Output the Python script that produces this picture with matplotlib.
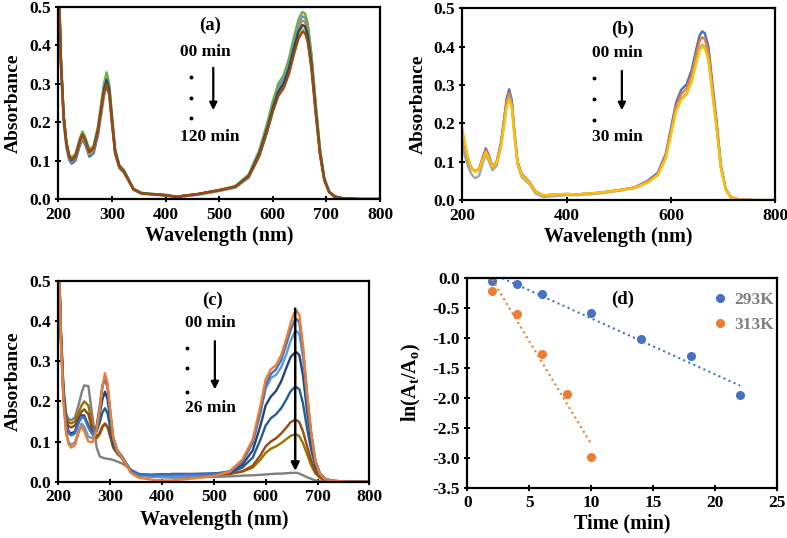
import numpy as np
import matplotlib
matplotlib.use("Agg")
import matplotlib.pyplot as plt

plt.rcParams['font.family'] = ['Liberation Serif', 'DejaVu Serif']
plt.rcParams['font.weight'] = 'bold'
plt.rcParams['axes.unicode_minus'] = False
plt.rcParams['mathtext.fontset'] = 'custom'
plt.rcParams['mathtext.rm'] = 'Liberation Serif:bold'
plt.rcParams['mathtext.it'] = 'Liberation Serif:bold'
plt.rcParams['mathtext.bf'] = 'Liberation Serif:bold'

# Data
wl = [200, 205, 210, 215, 220, 225, 232, 240, 245, 250, 258, 266, 274, 280, 285,
      290, 295, 300, 306, 314, 322, 330, 340, 355, 380, 400, 420, 460, 500, 530,
      555, 575, 590, 600, 610, 620, 630, 640, 648, 655, 660, 665, 672, 680, 688,
      696, 705, 715, 730, 760, 800]

# panel (a): 00 -> 120 min
a_blue = [0.58, 0.34, 0.2, 0.135, 0.102, 0.092, 0.1, 0.138, 0.155, 0.142, 0.11, 0.12, 0.166, 0.22, 0.268,
          0.295, 0.27, 0.196, 0.117, 0.08, 0.069, 0.05, 0.024, 0.014, 0.011, 0.009, 0.005, 0.011, 0.021, 0.03,
          0.056, 0.112, 0.178, 0.228, 0.27, 0.29, 0.328, 0.383, 0.422, 0.44, 0.437, 0.416, 0.344, 0.226, 0.118,
          0.05, 0.018, 0.006, 0.002, 0.0, 0.0]
a_orange = [0.60, 0.355, 0.216, 0.148, 0.115, 0.105, 0.114, 0.15, 0.167, 0.153, 0.122, 0.133, 0.178, 0.233, 0.28,
            0.305, 0.28, 0.205, 0.123, 0.084, 0.073, 0.053, 0.026, 0.015, 0.012, 0.01, 0.006, 0.013, 0.023, 0.032,
            0.061, 0.122, 0.191, 0.243, 0.286, 0.307, 0.348, 0.406, 0.447, 0.465, 0.461, 0.44, 0.364, 0.24, 0.125,
            0.053, 0.019, 0.007, 0.002, 0.0, 0.0]
a_yellow = [0.62, 0.35, 0.21, 0.142, 0.108, 0.098, 0.108, 0.146, 0.163, 0.15, 0.118, 0.13, 0.175, 0.228, 0.275,
            0.30, 0.275, 0.2, 0.12, 0.082, 0.071, 0.051, 0.025, 0.015, 0.012, 0.01, 0.006, 0.012, 0.022, 0.031,
            0.059, 0.117, 0.183, 0.233, 0.275, 0.295, 0.334, 0.389, 0.428, 0.445, 0.442, 0.421, 0.348, 0.229, 0.12,
            0.05, 0.018, 0.006, 0.002, 0.0, 0.0]
a_lightblue = [0.60, 0.355, 0.215, 0.147, 0.114, 0.104, 0.114, 0.153, 0.171, 0.157, 0.124, 0.136, 0.185, 0.243, 0.292,
               0.32, 0.292, 0.214, 0.127, 0.086, 0.075, 0.054, 0.027, 0.016, 0.013, 0.011, 0.006, 0.013, 0.023, 0.033,
               0.062, 0.124, 0.195, 0.249, 0.293, 0.314, 0.356, 0.415, 0.457, 0.476, 0.472, 0.45, 0.372, 0.245, 0.128,
               0.054, 0.02, 0.007, 0.002, 0.0, 0.0]
a_green = [0.60, 0.36, 0.22, 0.15, 0.117, 0.108, 0.118, 0.158, 0.176, 0.162, 0.128, 0.14, 0.19, 0.25, 0.30,
           0.33, 0.30, 0.22, 0.13, 0.088, 0.077, 0.055, 0.027, 0.016, 0.013, 0.011, 0.006, 0.013, 0.024, 0.034,
           0.064, 0.128, 0.2, 0.255, 0.30, 0.322, 0.365, 0.425, 0.468, 0.487, 0.483, 0.46, 0.38, 0.25, 0.13,
           0.055, 0.02, 0.007, 0.002, 0.0, 0.0]
a_darkblue = [0.60, 0.355, 0.212, 0.145, 0.11, 0.1, 0.11, 0.15, 0.168, 0.155, 0.122, 0.133, 0.18, 0.236, 0.284,
              0.31, 0.284, 0.208, 0.124, 0.084, 0.073, 0.052, 0.026, 0.015, 0.012, 0.01, 0.006, 0.013, 0.023, 0.032,
              0.06, 0.119, 0.186, 0.237, 0.279, 0.3, 0.34, 0.396, 0.436, 0.453, 0.45, 0.428, 0.354, 0.233, 0.121,
              0.051, 0.019, 0.007, 0.002, 0.0, 0.0]
a_brown = [0.62, 0.36, 0.215, 0.147, 0.113, 0.103, 0.112, 0.15, 0.166, 0.153, 0.121, 0.132, 0.177, 0.231, 0.277,
           0.298, 0.274, 0.2, 0.12, 0.083, 0.072, 0.052, 0.026, 0.015, 0.012, 0.01, 0.006, 0.013, 0.023, 0.032,
           0.058, 0.114, 0.179, 0.228, 0.268, 0.288, 0.326, 0.38, 0.418, 0.435, 0.432, 0.411, 0.34, 0.223, 0.116,
           0.049, 0.018, 0.006, 0.002, 0.0, 0.0]

# panel (b): 00 -> 30 min
b_blue = [0.17, 0.14, 0.11, 0.09, 0.079, 0.075, 0.08, 0.115, 0.135, 0.12, 0.088, 0.1, 0.15, 0.21, 0.265,
          0.289, 0.26, 0.18, 0.1, 0.068, 0.057, 0.045, 0.024, 0.012, 0.015, 0.016, 0.015, 0.019, 0.026, 0.033,
          0.05, 0.072, 0.12, 0.187, 0.255, 0.288, 0.302, 0.34, 0.39, 0.43, 0.44, 0.435, 0.40, 0.30, 0.2,
          0.09, 0.03, 0.008, 0.002, 0.0, 0.0]
b_orange = [0.175, 0.145, 0.113, 0.092, 0.08, 0.076, 0.081, 0.113, 0.131, 0.117, 0.087, 0.098, 0.146, 0.204, 0.257,
            0.28, 0.252, 0.175, 0.098, 0.067, 0.056, 0.044, 0.023, 0.012, 0.015, 0.016, 0.015, 0.019, 0.026, 0.033,
            0.048, 0.069, 0.116, 0.18, 0.246, 0.277, 0.291, 0.328, 0.376, 0.415, 0.425, 0.42, 0.386, 0.29, 0.193,
            0.087, 0.029, 0.008, 0.002, 0.0, 0.0]
b_gray = [0.143, 0.115, 0.092, 0.075, 0.063, 0.057, 0.063, 0.1, 0.12, 0.105, 0.078, 0.09, 0.138, 0.195, 0.248,
          0.27, 0.243, 0.168, 0.092, 0.06, 0.05, 0.04, 0.018, 0.008, 0.011, 0.013, 0.013, 0.017, 0.024, 0.031,
          0.046, 0.066, 0.11, 0.172, 0.235, 0.265, 0.278, 0.313, 0.359, 0.396, 0.405, 0.4, 0.368, 0.276, 0.184,
          0.083, 0.028, 0.007, 0.002, 0.0, 0.0]
b_yellow = [0.187, 0.15, 0.115, 0.093, 0.079, 0.074, 0.079, 0.108, 0.126, 0.112, 0.087, 0.097, 0.14, 0.195, 0.243,
            0.263, 0.24, 0.168, 0.095, 0.065, 0.054, 0.043, 0.023, 0.012, 0.015, 0.016, 0.015, 0.019, 0.026, 0.032,
            0.045, 0.065, 0.109, 0.17, 0.232, 0.262, 0.275, 0.309, 0.355, 0.391, 0.40, 0.396, 0.364, 0.273, 0.182,
            0.082, 0.027, 0.007, 0.002, 0.0, 0.0]

# panel (c): 00 -> 26 min
c_gray = [0.6, 0.38, 0.235, 0.17, 0.156, 0.153, 0.16, 0.195, 0.222, 0.24, 0.238, 0.16, 0.085, 0.063, 0.06,
          0.058, 0.057, 0.056, 0.054, 0.05, 0.046, 0.04, 0.03, 0.02, 0.013, 0.011, 0.01, 0.011, 0.012, 0.013,
          0.015, 0.016, 0.017, 0.018, 0.019, 0.02, 0.02, 0.021, 0.022, 0.022, 0.022, 0.02, 0.016, 0.011, 0.007,
          0.003, 0.001, 0.0, 0.0, 0.0, 0.0]
c_darkyellow = [0.6, 0.37, 0.225, 0.16, 0.148, 0.145, 0.15, 0.175, 0.19, 0.2, 0.19, 0.135, 0.108, 0.118, 0.135,
                0.143, 0.135, 0.112, 0.085, 0.07, 0.06, 0.045, 0.026, 0.017, 0.016, 0.016, 0.016, 0.017, 0.018, 0.02,
                0.025, 0.035, 0.055, 0.072, 0.082, 0.088, 0.096, 0.106, 0.114, 0.117, 0.117, 0.113, 0.096, 0.068, 0.04,
                0.02, 0.009, 0.003, 0.001, 0.0, 0.0]
c_brown = [0.6, 0.37, 0.22, 0.155, 0.138, 0.135, 0.14, 0.162, 0.175, 0.18, 0.168, 0.125, 0.112, 0.122, 0.138,
           0.145, 0.138, 0.115, 0.085, 0.07, 0.06, 0.045, 0.025, 0.015, 0.013, 0.014, 0.015, 0.016, 0.017, 0.019,
           0.026, 0.04, 0.066, 0.088, 0.1, 0.108, 0.12, 0.135, 0.148, 0.153, 0.153, 0.148, 0.125, 0.088, 0.052,
           0.026, 0.011, 0.004, 0.001, 0.0, 0.0]
c_midblue = [0.6, 0.36, 0.215, 0.145, 0.123, 0.118, 0.122, 0.15, 0.16, 0.16, 0.138, 0.118, 0.125, 0.148, 0.172,
             0.183, 0.17, 0.135, 0.092, 0.072, 0.062, 0.046, 0.026, 0.017, 0.017, 0.018, 0.019, 0.019, 0.02, 0.022,
             0.035, 0.06, 0.105, 0.14, 0.158, 0.168, 0.183, 0.205, 0.225, 0.234, 0.235, 0.23, 0.195, 0.132, 0.078,
             0.038, 0.015, 0.006, 0.002, 0.0, 0.0]
c_darkblue = [0.6, 0.36, 0.215, 0.145, 0.125, 0.12, 0.125, 0.155, 0.165, 0.165, 0.14, 0.118, 0.133, 0.17, 0.205,
              0.224, 0.205, 0.155, 0.1, 0.075, 0.063, 0.047, 0.027, 0.018, 0.017, 0.018, 0.019, 0.019, 0.02, 0.024,
              0.042, 0.078, 0.14, 0.19, 0.212, 0.226, 0.25, 0.284, 0.31, 0.32, 0.322, 0.315, 0.265, 0.175, 0.1,
              0.045, 0.018, 0.006, 0.002, 0.0, 0.0]
c_lightblue = [0.6, 0.35, 0.2, 0.125, 0.098, 0.092, 0.098, 0.13, 0.145, 0.137, 0.112, 0.108, 0.135, 0.185, 0.235,
               0.258, 0.235, 0.172, 0.108, 0.076, 0.064, 0.047, 0.025, 0.015, 0.012, 0.012, 0.013, 0.015, 0.017, 0.024,
               0.05, 0.098, 0.172, 0.232, 0.258, 0.266, 0.285, 0.318, 0.35, 0.37, 0.375, 0.367, 0.31, 0.205, 0.115,
               0.05, 0.019, 0.007, 0.002, 0.0, 0.0]
c_blue = [0.6, 0.36, 0.21, 0.14, 0.12, 0.115, 0.12, 0.15, 0.162, 0.16, 0.135, 0.118, 0.14, 0.19, 0.24,
          0.258, 0.235, 0.175, 0.11, 0.078, 0.065, 0.048, 0.028, 0.018, 0.016, 0.017, 0.018, 0.018, 0.019, 0.026,
          0.05, 0.098, 0.175, 0.24, 0.268, 0.28, 0.303, 0.343, 0.377, 0.4, 0.405, 0.396, 0.33, 0.215, 0.12,
          0.052, 0.02, 0.007, 0.002, 0.0, 0.0]
c_orange = [0.6, 0.35, 0.2, 0.12, 0.092, 0.085, 0.09, 0.125, 0.138, 0.125, 0.1, 0.098, 0.13, 0.18, 0.235,
            0.27, 0.245, 0.18, 0.11, 0.075, 0.062, 0.045, 0.022, 0.01, 0.005, 0.003, 0.003, 0.008, 0.014, 0.025,
            0.055, 0.105, 0.19, 0.255, 0.28, 0.29, 0.315, 0.357, 0.394, 0.42, 0.425, 0.415, 0.34, 0.22, 0.12,
            0.05, 0.018, 0.006, 0.002, 0.0, 0.0]

# panel (d): kinetics
t_293 = [2, 4, 6, 10, 14, 18, 22]
ln_293 = [-0.04, -0.09, -0.27, -0.585, -1.02, -1.30, -1.945]
t_313 = [2, 4, 6, 8, 10]
ln_313 = [-0.21, -0.59, -1.265, -1.94, -2.98]

BLUE, ORANGE, GRAY, YELLOW = '#4472C4', '#ED7D31', '#A5A5A5', '#FFC000'
LBLUE, GREEN, DBLUE, BROWN = '#5B9BD5', '#70AD47', '#264478', '#9E480E'
MBLUE, DYELLOW, DGRAY = '#255E91', '#997300', '#7F7F7F'

fig = plt.figure(figsize=(7.87, 5.38), dpi=100)
ax_a = fig.add_axes([0.0741, 0.630, 0.4088, 0.357])
ax_b = fig.add_axes([0.5874, 0.628, 0.3976, 0.3565])
ax_c = fig.add_axes([0.0741, 0.1047, 0.3952, 0.3731])
ax_d = fig.add_axes([0.5938, 0.0935, 0.3939, 0.3892])


def style(ax):
    for s in ax.spines.values():
        s.set_linewidth(1.6)
    ax.tick_params(direction='inout', length=5, width=1.4, labelsize=12.5, pad=3)


def spectra(ax, curves, labelx):
    for vals, col in curves:
        ax.plot(wl, vals, color=col, lw=1.7, solid_joinstyle='round', solid_capstyle='round')
    ax.set_xlim(200, 800)
    ax.set_ylim(0, 0.5)
    ax.set_yticks(np.arange(0, 0.51, 0.1))
    ax.yaxis.set_major_formatter(matplotlib.ticker.FormatStrFormatter('%.1f'))
    ax.set_ylabel('Absorbance', fontsize=14, fontweight='bold')
    ax.set_xlabel('Wavelength (nm)', fontsize=14.5, fontweight='bold')
    ax.xaxis.set_label_coords(0.5, -0.14)
    ax.yaxis.set_label_coords(labelx, 0.5)
    style(ax)


spectra(ax_a, [(a_blue, BLUE), (a_orange, ORANGE), (a_yellow, YELLOW), (a_lightblue, LBLUE),
               (a_green, GREEN), (a_darkblue, DBLUE), (a_brown, BROWN)], -0.112)
ax_a.set_xticks(np.arange(200, 801, 100))
spectra(ax_b, [(b_blue, BLUE), (b_orange, ORANGE), (b_gray, GRAY), (b_yellow, YELLOW)], -0.112)
ax_b.set_xticks(np.arange(200, 801, 200))
spectra(ax_c, [(c_gray, DGRAY), (c_darkyellow, DYELLOW), (c_brown, BROWN), (c_midblue, MBLUE),
               (c_darkblue, DBLUE), (c_lightblue, LBLUE), (c_blue, BLUE), (c_orange, ORANGE)], -0.118)
ax_c.set_xticks(np.arange(200, 801, 100))

# annotations for spectra
for ax, lab, lx, ly, t0, t1, tx, ty0, ty1, dx, dys, ax_x, ay0, ay1 in [
        (ax_a, '(a)', 483, 0.453, '00 min', '120 min', 427, 0.383, 0.161, 447, (0.318, 0.263, 0.211), 489, 0.349, 0.224),
        (ax_b, '(b)', 508, 0.446, '00 min', '30 min', 449, 0.383, 0.164, 453, (0.318, 0.263, 0.209), 506, 0.344, 0.227),
        (ax_c, '(c)', 498, 0.452, '00 min', '26 min', 444, 0.395, 0.183, 448, (0.333, 0.283, 0.223), 502, 0.357, 0.223)]:
    ax.text(lx, ly, lab, ha='center', va='center', fontsize=13.5, fontweight='bold')
    ax.text(tx, ty0, t0, ha='left', va='center', fontsize=12.5, fontweight='bold')
    ax.text(tx, ty1, t1, ha='left', va='center', fontsize=12.5, fontweight='bold')
    for dy in dys:
        ax.plot(dx, dy, 'o', color='k', ms=1.8)
    ax.annotate('', xy=(ax_x, ay1), xytext=(ax_x, ay0),
                arrowprops=dict(arrowstyle='-|>', color='k', lw=1.6, mutation_scale=11))

ax_c.annotate('', xy=(657, 0.02), xytext=(657, 0.438),
              arrowprops=dict(arrowstyle='-|>', color='k', lw=1.8, mutation_scale=12))

# panel (d)
for t, y, col, lab in [(t_293, ln_293, BLUE, '293K'), (t_313, ln_313, ORANGE, '313K')]:
    ax_d.plot(t, y, 'o', color=col, ms=5.5, label=lab)
    k, b = np.polyfit(t, y, 1)
    xs = np.array([t[0], t[-1]])
    ax_d.plot(xs, k * xs + b, ':', color=col, lw=1.5)
ax_d.set_xlim(0, 25)
ax_d.set_ylim(-3.5, 0)
ax_d.set_xticks(np.arange(0, 26, 5))
ax_d.set_yticks(np.arange(-3.5, 0.01, 0.5))
ax_d.yaxis.set_major_formatter(matplotlib.ticker.FormatStrFormatter('%.1f'))
ax_d.set_xlabel('Time (min)', fontsize=14.5, fontweight='bold')
ax_d.set_ylabel(r'ln(A$_\mathrm{t}$/A$_\mathrm{o}$)', fontsize=14.5, fontweight='bold')
ax_d.xaxis.set_label_coords(0.5, -0.125)
ax_d.yaxis.set_label_coords(-0.142, 0.5)
ax_d.text(12.5, -0.345, '(d)', ha='center', va='center', fontsize=13.5, fontweight='bold')
ax_d.legend(loc='upper left', bbox_to_anchor=(0.783, 0.935), frameon=False, fontsize=12.5,
            labelcolor=DGRAY, handletextpad=0.2, handlelength=1.2, labelspacing=0.5,
            borderpad=0, borderaxespad=0)
style(ax_d)

fig.savefig('out.png', dpi=100)
